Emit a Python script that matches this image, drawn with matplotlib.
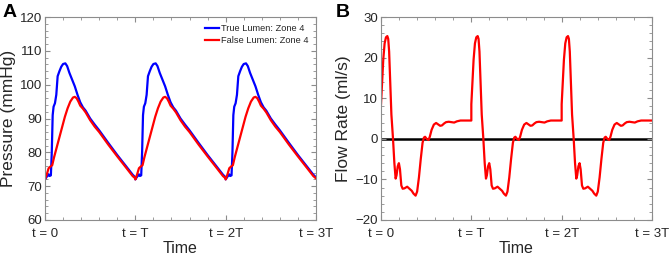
import numpy as np
import matplotlib
matplotlib.use("Agg")
import matplotlib.pyplot as plt
from matplotlib.ticker import MultipleLocator

plt.rcParams['font.family'] = ['Liberation Sans', 'DejaVu Sans']

# ---- data: one cardiac cycle (t in units of T), repeated for 3 cycles ----
n_cycles = 3
true_t = [0.00, 0.02, 0.04, 0.05, 0.065, 0.075, 0.085, 0.095, 0.11, 0.125, 0.14,
          0.16, 0.18, 0.20, 0.225, 0.245, 0.27, 0.30, 0.33, 0.36, 0.39, 0.42,
          0.45, 0.50, 0.55, 0.60, 0.70, 0.80, 0.90, 0.97, 1.00]
true_p = [72.0, 72.8, 73.5, 73.0, 73.2, 80.0, 91.0, 93.5, 94.5, 97.0, 102.5,
          104.0, 105.3, 106.1, 106.3, 105.5, 103.5, 101.5, 99.5, 97.0, 94.8, 93.3,
          92.3, 90.0, 88.2, 86.5, 82.8, 79.2, 75.8, 73.4, 72.6]
false_t = [0.00, 0.02, 0.04, 0.06, 0.08, 0.10, 0.13, 0.16, 0.19, 0.22, 0.25,
           0.28, 0.31, 0.33, 0.35, 0.37, 0.39, 0.42, 0.45, 0.50, 0.55, 0.60,
           0.70, 0.80, 0.90, 0.97, 1.00]
false_p = [72.0, 73.5, 75.3, 75.8, 76.2, 78.5, 81.5, 84.5, 87.5, 90.5, 93.0,
           95.0, 96.2, 96.4, 96.0, 95.0, 93.8, 92.9, 91.8, 89.5, 87.6, 86.0,
           82.3, 78.8, 75.4, 73.0, 72.3]
flow_t = [0.00, 0.01, 0.025, 0.04, 0.055, 0.07, 0.08, 0.09, 0.10, 0.115, 0.133,
          0.148, 0.162, 0.172, 0.185, 0.198, 0.21, 0.225, 0.24, 0.26, 0.29, 0.31,
          0.34, 0.36, 0.383, 0.40, 0.42, 0.44, 0.46, 0.475, 0.488, 0.505, 0.526,
          0.54, 0.56, 0.585, 0.61, 0.63, 0.655, 0.675, 0.70, 0.72, 0.75, 0.78,
          0.81, 0.84, 0.88, 1.00]
flow_q = [8.5, 13.0, 19.5, 23.5, 25.0, 25.3, 24.6, 21.5, 15.0, 6.0, 0.0,
          -6.0, -9.8, -9.0, -6.8, -6.0, -7.5, -11.5, -12.3, -12.2, -11.8, -12.2,
          -12.8, -13.5, -14.0, -13.0, -9.5, -5.0, -1.0, 0.3, 0.5, 0.0, -0.3,
          0.5, 2.2, 3.5, 3.9, 3.6, 3.2, 3.3, 3.8, 4.1, 4.2, 4.1,
          4.0, 4.3, 4.5, 4.5]

xtick_labels = ['t = 0', 't = T', 't = 2T', 't = 3T']
legend_labels = ['True Lumen: Zone 4', 'False Lumen: Zone 4']


def tile(t, v):
    tt = np.concatenate([np.asarray(t) + k for k in range(n_cycles)])
    vv = np.concatenate([np.asarray(v) for _ in range(n_cycles)])
    return tt, vv


W, H = 671, 257
fig = plt.figure(figsize=(W / 100, H / 100), dpi=100)
axA = fig.add_axes([45 / W, 37 / H, 271 / W, 203 / H])
axB = fig.add_axes([381 / W, 37 / H, 271 / W, 203 / H])

spine_c = '#8c8c8c'
text_c = '#262626'


def style(ax):
    for s in ax.spines.values():
        s.set_color(spine_c)
        s.set_linewidth(0.8)
    ax.set_xlim(0, n_cycles)
    ax.set_xticks(range(n_cycles + 1))
    ax.set_xticklabels(xtick_labels)
    ax.xaxis.set_minor_locator(MultipleLocator(0.2))
    ax.tick_params(which='both', direction='in', top=True, right=True,
                   color=spine_c, labelcolor=text_c, labelsize=9.5)
    ax.tick_params(axis='y', which='both', pad=2)
    ax.tick_params(axis='x', which='both', pad=5.5)
    ax.tick_params(which='major', length=3.5)
    ax.tick_params(which='minor', length=2)
    ax.set_xlabel('Time', fontsize=11.5, color=text_c, labelpad=1)


t1, p1 = tile(true_t, true_p)
t2, p2 = tile(false_t, false_p)
axA.plot(t1, p1, color='#0000ff', lw=1.6, label=legend_labels[0])
axA.plot(t2, p2, color='#ff0000', lw=1.6, label=legend_labels[1])
style(axA)
axA.set_ylim(60, 120)
axA.set_yticks(range(60, 121, 10))
axA.yaxis.set_minor_locator(MultipleLocator(2))
axA.set_ylabel('Pressure (mmHg)', fontsize=12.5, color=text_c, labelpad=3)
leg = axA.legend(loc='upper right', fontsize=6.7, frameon=False, handlelength=1.5,
                 handletextpad=0.2, labelspacing=0.25, borderaxespad=0.5,
                 borderpad=0.3)
for txt in leg.get_texts():
    txt.set_color(text_c)

t3, q3 = tile(flow_t, flow_q)
axB.axhline(0, color='black', lw=1.8, zorder=1)
axB.plot(t3, q3, color='#ff0000', lw=1.6, zorder=2)
style(axB)
axB.set_ylim(-20, 30)
axB.set_yticks(range(-20, 31, 10))
axB.yaxis.set_minor_locator(MultipleLocator(2))
axB.set_ylabel('Flow Rate (ml/s)', fontsize=12.5, color=text_c, labelpad=3)

fig.text(3 / W, 1 - 4 / H, 'A', fontsize=14, fontweight='bold', va='top', ha='left')
fig.text(336 / W, 1 - 4 / H, 'B', fontsize=14, fontweight='bold', va='top', ha='left')

fig.savefig('out.png', dpi=100)
